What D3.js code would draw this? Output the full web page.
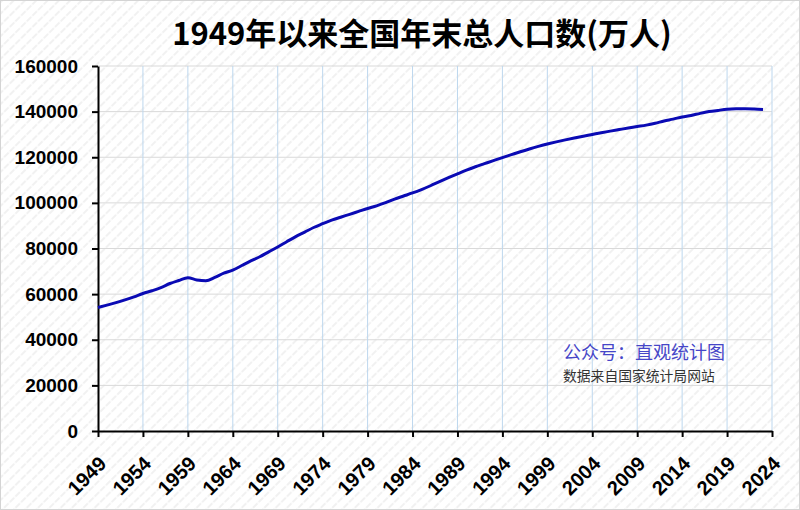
<!DOCTYPE html>
<html>
<head>
<meta charset="utf-8">
<script src="https://cdn.jsdelivr.net/npm/d3@7"></script>
<style>
  body { margin: 0; background: #fff; }
  svg { display: block; }
</style>
</head>
<body>
<div id="chart"></div>
<script>
// year-end population of China, 10k persons
var years = d3.range(1949, 2024);
var population = [
  54167, 55196, 56300, 57482, 58796, 60266, 61465, 62828, 64653, 65994,
  67207, 66207, 65859, 67295, 69172, 70499, 72538, 74542, 76368, 78534,
  80671, 82992, 85229, 87177, 89211, 90859, 92420, 93717, 94974, 96259,
  97542, 98705, 100072, 101654, 103008, 104357, 105851, 107507, 109300, 111026,
  112704, 114333, 115823, 117171, 118517, 119850, 121121, 122389, 123626, 124761,
  125786, 126743, 127627, 128453, 129227, 129988, 130756, 131448, 132129, 132802,
  133450, 134091, 134916, 135922, 136726, 137646, 138326, 139232, 140011, 140541,
  141008, 141212, 141260, 141175, 140967
];
var xTicks = d3.range(1949, 2025, 5);
var yTicks = d3.range(0, 160001, 20000);

var title = "1949年以来全国年末总人口数(万人)";
var note1 = "公众号：直观统计图";
var note2 = "数据来自国家统计局网站";

var width = 800, height = 510;
var margin = {top: 66, right: 28, bottom: 79, left: 98};

var svg = d3.select("#chart").append("svg")
  .attr("width", width)
  .attr("height", height);

// faint hatched background
var defs = svg.append("defs");
var pat = defs.append("pattern")
  .attr("id", "hatch")
  .attr("patternUnits", "userSpaceOnUse")
  .attr("width", 8)
  .attr("height", 8)
  .attr("patternTransform", "rotate(-45)");
pat.append("rect").attr("width", 8).attr("height", 8).attr("fill", "#fff");
pat.append("line")
  .attr("x1", 0).attr("y1", 2).attr("x2", 8).attr("y2", 2)
  .attr("stroke", "#f1f1f1").attr("stroke-width", 2);
pat.append("line")
  .attr("x1", 3).attr("y1", 0).attr("x2", 3).attr("y2", 4)
  .attr("stroke", "#fff").attr("stroke-width", 1.5);

svg.append("rect")
  .attr("x", 0.5).attr("y", 0.5)
  .attr("width", width - 1).attr("height", height - 1)
  .attr("fill", "url(#hatch)")
  .attr("stroke", "#d4d4d4");

var x = d3.scaleLinear()
  .domain([1949, 2024])
  .range([margin.left, width - margin.right]);
var y = d3.scaleLinear()
  .domain([0, 160000])
  .range([height - margin.bottom, margin.top]);

// grid
svg.append("g")
  .selectAll("line")
  .data(yTicks.filter(function(d) { return d > 0; }))
  .enter().append("line")
  .attr("x1", margin.left).attr("x2", width - margin.right)
  .attr("y1", function(d) { return y(d); })
  .attr("y2", function(d) { return y(d); })
  .attr("stroke", "#d9d9d9")
  .attr("stroke-width", 1);

svg.append("g")
  .selectAll("line")
  .data(xTicks.filter(function(d) { return d > 1949; }))
  .enter().append("line")
  .attr("x1", function(d) { return x(d); })
  .attr("x2", function(d) { return x(d); })
  .attr("y1", margin.top).attr("y2", height - margin.bottom)
  .attr("stroke", "#bdd7ee")
  .attr("stroke-width", 1);

// axes
var yAxis = svg.append("g")
  .attr("transform", "translate(" + margin.left + ",0)")
  .call(d3.axisLeft(y).tickValues(yTicks).tickFormat(d3.format("d"))
    .tickSize(6).tickPadding(14).tickSizeOuter(0));
yAxis.select(".domain").attr("stroke", "#000").attr("stroke-width", 2);
yAxis.selectAll(".tick line").attr("stroke", "#000").attr("stroke-width", 2);
yAxis.selectAll("text")
  .attr("font-family", "'Liberation Sans', Arial, sans-serif")
  .attr("font-weight", "bold")
  .attr("font-size", 19)
  .attr("fill", "#000");

var xAxis = svg.append("g")
  .attr("transform", "translate(0," + (height - margin.bottom) + ")")
  .call(d3.axisBottom(x).tickValues(xTicks).tickFormat(d3.format("d")).tickSize(6).tickSizeOuter(0));
xAxis.select(".domain").attr("stroke", "#000").attr("stroke-width", 2);
xAxis.selectAll(".tick line").attr("stroke", "#000").attr("stroke-width", 2);
xAxis.selectAll("text")
  .attr("font-family", "'Liberation Sans', Arial, sans-serif")
  .attr("font-weight", "bold")
  .attr("font-size", 20)
  .attr("fill", "#000")
  .attr("text-anchor", "end")
  .attr("dy", null)
  .attr("y", null)
  .attr("transform", "translate(9,34) rotate(-45)");

// line
var line = d3.line()
  .x(function(d, i) { return x(years[i]); })
  .y(function(d) { return y(d); })
  .curve(d3.curveMonotoneX);

svg.append("path")
  .datum(population)
  .attr("d", line)
  .attr("fill", "none")
  .attr("stroke", "#0a0ab4")
  .attr("stroke-width", 3);

// title
svg.append("text")
  .attr("x", 422)
  .attr("y", 45)
  .attr("text-anchor", "middle")
  .attr("font-family", "'Noto Sans CJK SC', sans-serif")
  .attr("font-weight", "bold")
  .attr("font-size", 31)
  .text(title);

svg.append("text")
  .attr("x", 563)
  .attr("y", 359)
  .attr("font-family", "'Noto Sans CJK SC', sans-serif")
  .attr("font-size", 18)
  .attr("fill", "#4646c8")
  .text(note1);

svg.append("text")
  .attr("x", 563)
  .attr("y", 381)
  .attr("font-family", "'Noto Sans CJK SC', sans-serif")
  .attr("font-size", 13.8)
  .attr("fill", "#333")
  .text(note2);
</script>
</body>
</html>
